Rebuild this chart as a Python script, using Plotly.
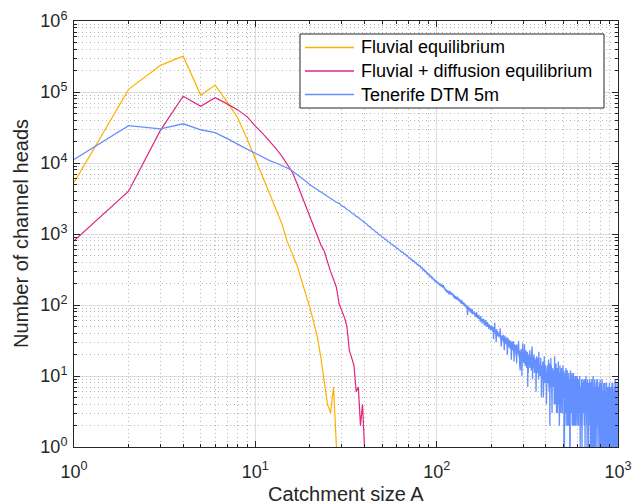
import plotly.graph_objects as go

# ---------------- data ----------------
fluvial_x = list(range(1, 29))
fluvial = [5300, 109000, 237000, 320000, 90000, 125000, 72000, 43000, 22000, 11500,
           6300, 3600, 2300, 1400, 780, 530, 360, 220, 143, 92,
           57, 35, 18, 9, 4, 3, 7, 1]

diffusion_x = list(range(1, 42))
diffusion = [800, 4000, 29000, 87000, 63000, 83000, 68000, 56000, 45000, 33000,
             26000, 20500, 16000, 12500, 9600, 7400, 5100, 3500, 2400, 1800,
             1300, 920, 700, 570, 400, 295, 230, 177, 103, 83,
             67, 50, 23, 18, 14, 6, 7, 2, 4, 1, 0]

tenerife_x = list(range(1, 1001))
tenerife = [
    11200, 33500, 30300, 35700, 29400, 26700, 22000, 18200, 15700, 13700,
    12100, 10800, 10000, 9300, 8500, 7700, 6900, 6200, 5550, 4950,
    4560, 4140, 3880, 3570, 3410, 3150, 3010, 2800, 2700, 2490,
    2390, 2210, 2130, 1970, 1900, 1770, 1720, 1600, 1550, 1440,
    1395, 1300, 1262, 1175, 1150, 1070, 1050, 980, 962, 900,
    890, 835, 826, 775, 770, 722, 716, 676, 670, 632,
    630, 594, 590, 555, 560, 522, 525, 494, 498, 462,
    466, 436, 440, 410, 418, 392, 396, 370, 374, 352,
    356, 333, 338, 312, 318, 296, 301, 280, 284, 263,
    270, 250, 256, 238, 243, 226, 230, 215, 219, 204,
    214, 196, 205, 188, 199, 181, 194, 176, 190, 170,
    172, 158, 166, 149, 161, 152, 141, 158, 146, 139,
    151, 137, 144, 128, 139, 122, 133, 126, 119, 131,
    117, 126, 112, 121, 108, 118, 104, 115, 110, 101,
    109, 97, 105, 94, 101, 89, 98, 72, 90, 95,
    84, 91, 79, 87, 82, 76, 88, 74, 81, 77,
    80, 71, 77, 68, 75, 79, 66, 73, 69, 64,
    72, 63, 67, 58, 70, 61, 65, 55, 63, 60,
    57, 64, 52, 59, 55, 61, 50, 56, 53, 58,
    49, 55, 51, 46, 53, 48, 52, 44, 50, 47,
    45, 51, 42, 47, 49, 33, 46, 43, 56, 41,
    44, 38, 30, 46, 37, 41, 43, 36, 40, 39,
    35, 41, 38, 47, 39, 36, 26, 34, 37, 32,
    36, 31, 38, 33, 29, 23, 32, 37, 30, 34,
    28, 33, 31, 35, 20, 32, 29, 34, 26, 31,
    30, 25, 32, 28, 24, 31, 27, 17, 22, 30,
    26, 29, 23, 27, 31, 24, 16, 21, 28, 25,
    23, 27, 25, 19, 26, 15, 28, 22, 25, 21,
    24, 20, 31, 22, 18, 23, 14, 21, 12, 22,
    20, 24, 19, 22, 10, 21, 25, 29, 20, 16,
    19, 22, 15, 20, 28, 17, 21, 14, 19, 23,
    18, 16, 21, 13, 19, 22, 17, 7, 20, 11,
    17, 20, 14, 18, 16, 23, 13, 17, 19, 15,
    16, 12, 18, 21, 14, 26, 15, 9, 19, 16,
    13, 17, 15, 20, 14, 11, 16, 18, 12, 15,
    14, 17, 6, 15, 13, 19, 12, 16, 14, 11,
    15, 12, 18, 13, 9, 22, 16, 11, 13, 17,
    12, 10, 15, 13, 18, 11, 14, 5, 13, 12,
    11, 14, 9, 12, 16, 10, 13, 5, 12, 11,
    13, 19, 12, 15, 8, 11, 14, 9, 12, 10,
    11, 9, 4, 10, 12, 7, 14, 10, 11, 8,
    10, 13, 8, 17, 9, 12, 6, 10, 15, 9,
    2, 11, 9, 10, 7, 18, 9, 8, 14, 10,
    8, 10, 3, 11, 9, 13, 7, 9, 10, 12,
    9, 7, 11, 8, 4, 16, 19, 12, 7, 8,
    9, 4, 10, 8, 15, 7, 9, 3, 11, 8,
    7, 13, 8, 3, 9, 12, 5, 8, 16, 7,
    9, 4, 11, 8, 2, 10, 5, 9, 14, 7,
    8, 6, 12, 3, 9, 4, 8, 13, 6, 9,
    7, 11, 3, 8, 9, 6, 14, 5, 8, 6,
    8, 5, 12, 0, 7, 10, 4, 8, 3, 9,
    7, 11, 4, 8, 5, 13, 7, 2, 10, 6,
    8, 3, 9, 7, 12, 5, 8, 2, 10, 7,
    5, 9, 7, 2, 11, 6, 10, 3, 4, 8,
    9, 6, 7, 0, 5, 8, 12, 9, 3, 7,
    6, 10, 3, 9, 7, 4, 11, 6, 2, 5,
    7, 9, 4, 3, 8, 5, 10, 11, 2, 4,
    8, 5, 7, 3, 9, 2, 7, 5, 10, 6,
    5, 9, 2, 8, 6, 10, 3, 7, 3, 8,
    6, 4, 9, 2, 7, 6, 10, 3, 6, 8,
    5, 9, 3, 6, 8, 2, 9, 6, 4, 7,
    6, 3, 8, 2, 10, 6, 4, 9, 1, 6,
    7, 4, 6, 2, 8, 3, 6, 9, 5, 9,
    4, 7, 1, 7, 2, 6, 8, 5, 3, 4,
    7, 5, 9, 3, 8, 2, 4, 6, 7, 5,
    6, 2, 7, 5, 9, 3, 6, 1, 4, 7,
    5, 8, 4, 6, 3, 10, 5, 6, 2, 5,
    6, 2, 7, 5, 1, 8, 3, 6, 4, 9,
    5, 7, 4, 6, 2, 5, 8, 1, 6, 5,
    4, 6, 2, 3, 7, 5, 4, 9, 5, 6,
    5, 3, 8, 4, 7, 1, 2, 6, 4, 5,
    6, 4, 5, 8, 3, 5, 9, 0, 4, 2,
    5, 7, 3, 5, 1, 6, 2, 5, 10, 6,
    4, 2, 6, 3, 5, 7, 1, 5, 3, 6,
    0, 5, 4, 9, 3, 5, 8, 2, 5, 2,
    5, 1, 6, 3, 5, 4, 7, 2, 5, 4,
    6, 3, 4, 9, 2, 6, 1, 5, 9, 3,
    4, 5, 2, 6, 4, 2, 7, 1, 6, 3,
    5, 4, 7, 3, 1, 5, 2, 8, 4, 5,
    3, 5, 1, 6, 2, 4, 9, 3, 7, 4,
    5, 3, 0, 4, 6, 1, 5, 4, 2, 8,
    4, 6, 3, 1, 4, 9, 3, 5, 2, 4,
    5, 2, 4, 6, 0, 4, 5, 3, 1, 7,
    3, 5, 4, 2, 8, 4, 1, 5, 4, 1,
    4, 6, 3, 5, 2, 4, 1, 8, 4, 5,
    3, 4, 7, 2, 6, 0, 4, 3, 5, 1,
    2, 5, 4, 3, 8, 4, 1, 5, 3, 4,
    5, 0, 4, 2, 6, 2, 4, 7, 3, 1,
    4, 2, 5, 3, 7, 1, 3, 5, 2, 6,
    3, 5, 1, 2, 6, 3, 8, 1, 5, 3,
    4, 2, 5, 1, 4, 6, 3, 7, 2, 5,
    3, 4, 1, 5, 2, 4, 7, 1, 4, 3,
    5, 1, 4, 2, 3, 8, 4, 1, 3, 4,
    2, 4, 6, 1, 4, 2, 8, 3, 4, 1,
    4, 3, 2, 5, 1, 4, 1, 0, 3, 6,
    3, 5, 1, 4, 2, 7, 2, 4, 1, 5,
    4, 2, 3, 9, 1, 4, 3, 2, 5, 1,
    3, 6, 2, 8, 3, 1, 4, 1, 5, 2,
    0, 3, 4, 2, 6, 1, 1, 4, 3, 2,
    4, 3, 1, 5, 3, 0, 8, 2, 1, 4,
]

series_names = ["Fluvial equilibrium", "Fluvial + diffusion equilibrium", "Tenerife DTM 5m"]
series_colors = ["#FFB000", "#DC267F", "#648FFF"]
series_widths = [1.2, 1.2, 1.3]

x_tick_vals = [1, 10, 100, 1000]
x_tick_text = ["10<sup>0</sup>", "10<sup>1</sup>", "10<sup>2</sup>", "10<sup>3</sup>"]
y_tick_vals = [1, 10, 100, 1000, 10000, 100000, 1000000]
y_tick_text = ["10<sup>0</sup>", "10<sup>1</sup>", "10<sup>2</sup>", "10<sup>3</sup>",
               "10<sup>4</sup>", "10<sup>5</sup>", "10<sup>6</sup>"]

# ---------------- layout constants (pixels of the 633x504 page) ----------------
W, H = 633, 504
L, R, T, B = 74, 618, 21, 447          # plot frame
PW, PH = R - L, B - T


def px_x(p):
    return (p - L) / PW


def px_y(p):
    return (B - p) / PH


def on_log_axis(values):
    # zero counts cannot sit on a log axis: send them below the frame (clipped)
    return [v if v > 0 else 1e-3 for v in values]


fig = go.Figure()
for xs, ys, name, col, lw in zip([fluvial_x, diffusion_x, tenerife_x],
                                 [fluvial, diffusion, tenerife],
                                 series_names, series_colors, series_widths):
    fig.add_trace(go.Scatter(x=xs, y=on_log_axis(ys), mode="lines", name=name,
                             line=dict(color=col, width=lw), showlegend=False))

minor_x = [m * 10 ** k for k in range(3) for m in range(2, 10)]
minor_y = [m * 10 ** k for k in range(6) for m in range(2, 10)]

axis_common = dict(
    type="log", showline=True, linecolor="#262626", linewidth=1, mirror="ticks",
    ticks="inside", ticklen=6, tickcolor="#262626", tickwidth=1,
    showgrid=True, gridcolor="#dcdcdc", gridwidth=1, zeroline=False,
    tickfont=dict(size=18, color="#262626"), automargin=False,
)
minor_common = dict(tickmode="array", ticks="inside", ticklen=3, tickcolor="#262626",
                    showgrid=True, gridcolor="#b8b8b8", griddash="1px,3px", gridwidth=1)

fig.update_xaxes(**axis_common, range=[0, 3], tickmode="array",
                 tickvals=x_tick_vals, ticktext=x_tick_text, ticklabelstandoff=8,
                 minor=dict(**minor_common, tickvals=minor_x))
fig.update_yaxes(**axis_common, range=[0, 6], tickmode="array",
                 tickvals=y_tick_vals, ticktext=y_tick_text, ticklabelstandoff=2,
                 minor=dict(**minor_common, tickvals=minor_y))

# ---------------- legend (drawn as a boxed key, top right) ----------------
box_l, box_r, box_t, box_b = 300, 604, 34, 108
row_y = [47.5, 71, 94.5]
shapes = [dict(type="rect", xref="paper", yref="paper",
               x0=px_x(box_l), x1=px_x(box_r), y0=px_y(box_b), y1=px_y(box_t),
               line=dict(color="#262626", width=1), fillcolor="white", layer="above")]
annotations = []
for name, col, ry in zip(series_names, series_colors, row_y):
    shapes.append(dict(type="line", xref="paper", yref="paper",
                       x0=px_x(305), x1=px_x(354), y0=px_y(ry), y1=px_y(ry),
                       line=dict(color=col, width=1.3), layer="above"))
    annotations.append(dict(text=name, xref="paper", yref="paper", x=px_x(359), y=px_y(ry),
                            xanchor="left", yanchor="middle", showarrow=False,
                            font=dict(size=18, color="black")))

# axis titles
annotations.append(dict(text="Catchment size A", xref="paper", yref="paper",
                        x=0.5, y=px_y(494), xanchor="center", yanchor="middle",
                        showarrow=False, font=dict(size=20, color="#262626")))
annotations.append(dict(text="Number of channel heads", xref="paper", yref="paper",
                        x=px_x(21), y=0.5, xanchor="center", yanchor="middle", textangle=-90,
                        showarrow=False, font=dict(size=20, color="#262626")))

fig.update_layout(
    width=W, height=H,
    margin=dict(l=L, r=W - R, t=T, b=H - B),
    paper_bgcolor="white", plot_bgcolor="white",
    font=dict(family="Liberation Sans, Arial, sans-serif", size=18, color="#262626"),
    showlegend=False,
    shapes=shapes, annotations=annotations,
)

fig.write_html("out.html")
